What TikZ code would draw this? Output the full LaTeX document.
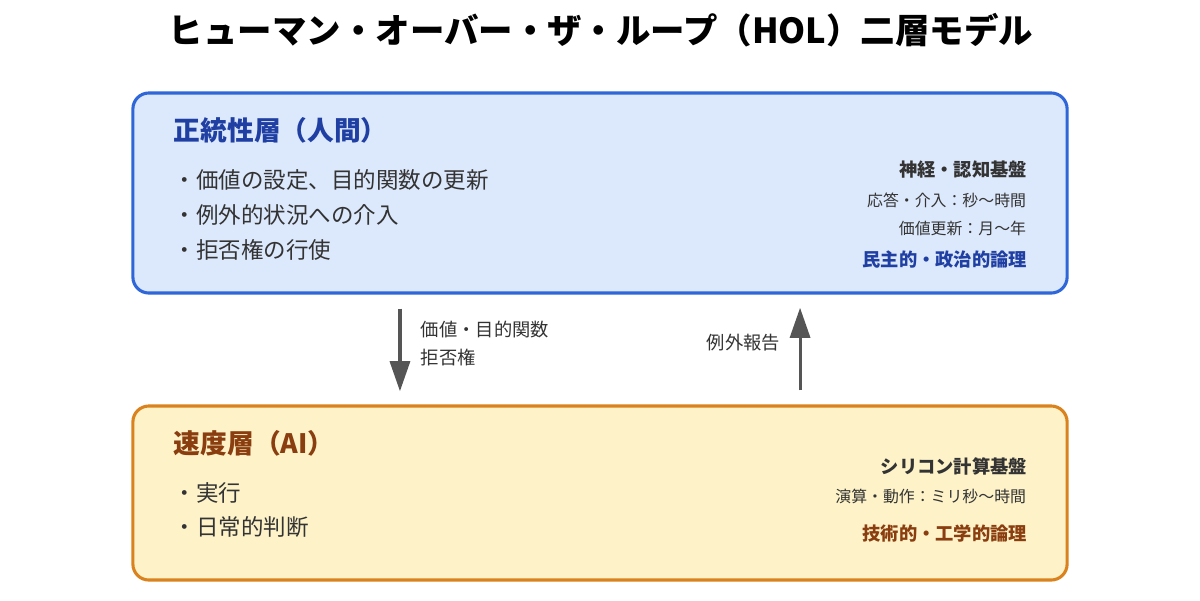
\documentclass[tikz,border=0pt]{standalone}
\usepackage{fontspec}
\setmainfont{Noto Sans CJK JP}
\usetikzlibrary{positioning, arrows.meta}
\definecolor{humanfill}{HTML}{DCE8FB}
\definecolor{humanline}{HTML}{2F66D8}
\definecolor{humantext}{HTML}{1F3FA3}
\definecolor{aifill}{HTML}{FDF2C8}
\definecolor{ailine}{HTML}{D9821E}
\definecolor{aitext}{HTML}{8A3D0F}
\definecolor{bodytext}{HTML}{333333}
\definecolor{arrowgray}{HTML}{555555}

\begin{document}
\begin{tikzpicture}[x = 0.025cm, y = -0.025cm, bodytext,
  layer/.style = {draw, line width = 2.2pt, rounded corners = 0.4cm, minimum width = 23.35cm},
  heading/.style = {anchor = west, font = \fontsize{19}{23}\selectfont\bfseries},
  item/.style = {anchor = west, font = \fontsize{16}{20}\selectfont},
  base/.style = {anchor = east, font = \fontsize{13}{16}\selectfont\bfseries},
  detail/.style = {anchor = east, font = \fontsize{11.3}{14}\selectfont},
  flow/.style = {draw = arrowgray, line width = 2.2pt, -{Triangle[width = 0.5cm, length = 0.75cm]}, shorten <= 0.35cm, shorten >= 0.33cm},
  flowlabel/.style = {font = \fontsize{13}{20}\selectfont, align = left}]
  \useasboundingbox (0,0) rectangle (1200,600);

  % title
  \node [font = \fontsize{24.5}{30}\selectfont\bfseries, black] (title) at (601,30) {ヒューマン・オーバー・ザ・ループ（HOL）二層モデル};

  % layers
  \node [layer, draw = humanline, fill = humanfill, minimum height = 5cm] (human) at (600,193) {};
  \node [layer, draw = ailine, fill = aifill, minimum height = 4.35cm] (ai) at (600,493) {};

  % human layer text
  \node [heading, humantext] (humanhead) at (169,130) {正統性層（人間）};
  \node [item] (value) at (169,180) {・価値の設定、目的関数の更新};
  \node [item] (exception) at (169,215) {・例外的状況への介入};
  \node [item] (veto) at (169,250) {・拒否権の行使};
  \node [base] (neuro) at (1032,170) {神経・認知基盤};
  \node [detail] (response) at (1031,200) {応答・介入：秒〜時間};
  \node [detail] (update) at (1031,228) {価値更新：月〜年};
  \node [base, humantext] (democratic) at (1032,260) {民主的・政治的論理};

  % ai layer text
  \node [heading, aitext] (aihead) at (169,443) {速度層（AI）};
  \node [item] (execute) at (169,493) {・実行};
  \node [item] (routine) at (169,527) {・日常的判断};
  \node [base] (silicon) at (1032,466) {シリコン計算基盤};
  \node [detail] (compute) at (1031,496) {演算・動作：ミリ秒〜時間};
  \node [base, aitext] (technical) at (1032,533) {技術的・工学的論理};

  % edges
  \draw [flow] ([xshift = -5cm]human.south) -- ([xshift = -5cm]ai.north);
  \draw [flow] ([xshift = 5cm]ai.north) -- ([xshift = 5cm]human.south);
  \node [flowlabel, anchor = north west] (downlabel) at (416,316) {価値・目的関数\\拒否権};
  \node [flowlabel, anchor = east] (uplabel) at (785,343) {例外報告};
\end{tikzpicture}
\end{document}
